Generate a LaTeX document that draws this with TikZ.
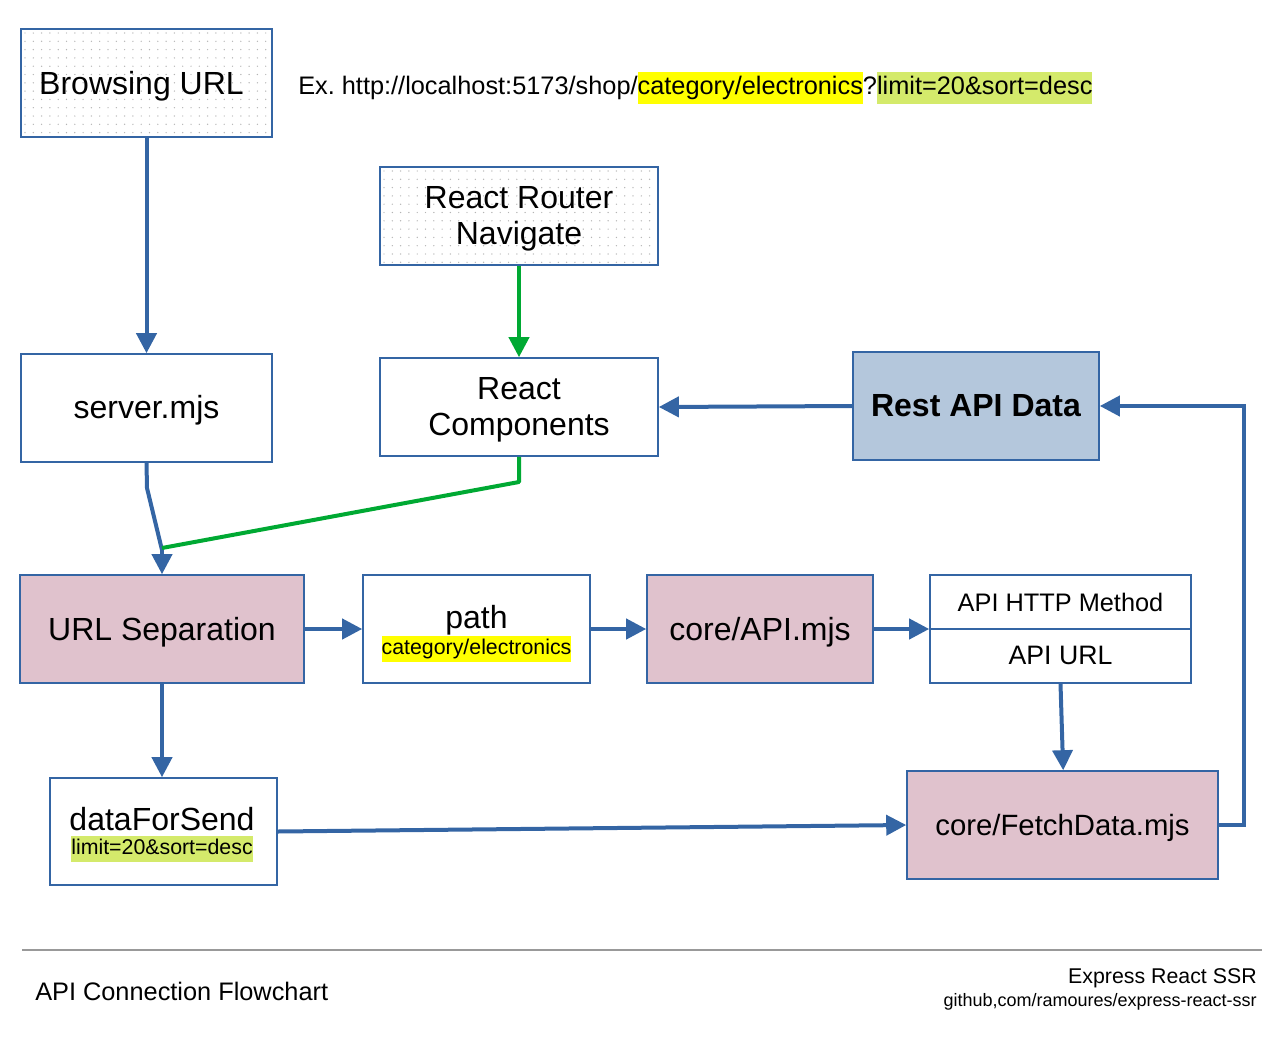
\documentclass[tikz,border=0pt]{standalone}
\usepackage{fontspec}
\setmainfont{Liberation Sans}
\usepackage{xcolor}
\usetikzlibrary{arrows.meta,calc}
\frenchspacing
\definecolor{lblue}{HTML}{3465A4}
\definecolor{lgreen}{HTML}{00A933}
\definecolor{lpink}{HTML}{E0C2CD}
\definecolor{lsteel}{HTML}{B4C7DC}
\definecolor{hlyellow}{HTML}{FFFF00}
\definecolor{hllime}{HTML}{D4EA6B}
\definecolor{dotgray}{HTML}{B4B4B4}
\definecolor{rulegray}{HTML}{999999}
\newcommand{\hlbox}[2]{{\setlength\fboxsep{0pt}\colorbox{#1}{\strut #2}}}
\begin{document}
\begin{tikzpicture}[x=0.75pt,y=-0.75pt,
  box/.style={draw=lblue,line width=1.2pt,fill=white,inner sep=0pt},
  txt/.style={inner sep=0pt,align=center,font=\fontsize{24}{27}\selectfont},
  dotfill/.style={path picture={
    \foreach \i in {0,...,34} \foreach \j in {0,...,13}
      \fill[dotgray] ([shift={(\i*8.3+4,\j*8.3+4)}]path picture bounding box.north west) circle (0.7);}},
  conn/.style={draw=lblue,line width=3pt,-{Triangle[length=15pt,width=15pt]}},
  gconn/.style={draw=lgreen,line width=3pt,-{Triangle[length=15pt,width=15pt]}},
  gline/.style={draw=lgreen,line width=3pt},
  bline/.style={draw=lblue,line width=3pt},
]
\useasboundingbox (0,0) rectangle (1281,1042);

% boxes
\node[box,dotfill,minimum width=188.25pt,minimum height=81pt] (url) at (146.5,83) {};
\node[box,minimum width=188.25pt,minimum height=81pt] (server) at (146.5,408) {};
\node[box,dotfill,minimum width=208.5pt,minimum height=73.5pt] (router) at (519,216) {};
\node[box,minimum width=208.5pt,minimum height=73.5pt] (comps) at (519,407) {};
\node[box,fill=lsteel,minimum width=184.5pt,minimum height=81pt] (rest) at (976,406) {};
\node[box,fill=lpink,minimum width=213pt,minimum height=81pt] (sep) at (162,629) {};
\node[box,minimum width=170.25pt,minimum height=81pt] (path) at (476.5,629) {};
\node[box,fill=lpink,minimum width=169.5pt,minimum height=81pt] (api) at (760,629) {};
\node[box,minimum width=195.75pt,minimum height=81pt] (http) at (1060.5,629) {};
\draw[draw=lblue,line width=1.2pt] (http.west) -- (http.east);
\node[box,minimum width=170.25pt,minimum height=80.25pt] (data) at (163.5,831.5) {};
\node[box,fill=lpink,minimum width=233.25pt,minimum height=81pt] (fetch) at (1062.5,825) {};

% texts
\node[txt] (urlt) at (141.5,86) {Browsing URL};
\node[anchor=west,font=\fontsize{19}{24}\selectfont,inner sep=0pt] (ex) at (298,88)
  {Ex. http://localhost:5173/shop/\hlbox{hlyellow}{category/electronics}?\hlbox{hllime}{limit=20\&sort=desc}};
\node[txt] (servert) at (146.5,410) {server.mjs};
\node[txt] (routert) at (519,219) {React Router\\Navigate};
\node[txt] (compst) at (519,410) {React\\Components};
\node[txt,font=\fontsize{24}{27}\selectfont\bfseries] (restt) at (976,406) {Rest API Data};
\node[txt] (sept) at (162,632) {URL Separation};
\node[txt] (pathlbl) at (476.5,620) {path};
\node[txt,font=\fontsize{16}{19}\selectfont] (pathsub) at (476.5,649) {\hlbox{hlyellow}{category/electronics}};
\node[txt] (apit) at (760,632) {core/API.mjs};
\node[txt,font=\fontsize{19}{22}\selectfont] (method) at (1060.5,602) {API HTTP Method};
\node[txt,font=\fontsize{20}{22}\selectfont] (apiurl) at (1060.5,655) {API URL};
\node[txt] (datalbl) at (162,819) {dataForSend};
\node[txt,font=\fontsize{16}{19}\selectfont] (datasub) at (162,849) {\hlbox{hllime}{limit=20\&sort=desc}};
\node[txt,font=\fontsize{22}{26}\selectfont] (fetcht) at (1062.5,828) {core/FetchData.mjs};

% helper coordinates
\coordinate (b1) at (147,488);
\coordinate (b2) at (162,550);
\coordinate (g1) at (519,482);
\coordinate (j1) at (162,548);
\coordinate (r1) at (1244,825);
\coordinate (r2) at (1244,406);

% connectors
\draw[conn] (url.south) -- (server.north);
\draw[gconn] (router.south) -- (comps.north);
\draw[bline,line join=round] (server.south) -- (b1) -- (b2);
\draw[conn] (b2) -- (sep.north);
\draw[gline,line join=round] (comps.south) -- (g1) -- (j1);
\draw[conn] (rest.west) -- (comps.east);
\draw[conn] (sep.east) -- (path.west);
\draw[conn] (path.east) -- (api.west);
\draw[conn] (api.east) -- (http.west);
\draw[conn] (sep.south) -- (data.north -| sep.south);
\draw[conn] (http.south) -- ([xshift=2]fetch.north -| http.south);
\draw[conn] (data.east) -- (fetch.west);
\draw[conn,line join=miter] (fetch.east) -- (r1) -- (r2) -- (rest.east);

% footer
\coordinate (fl) at (22,950);
\coordinate (fr) at (1262,950);
\draw[rulegray,line width=1.5pt] (fl) -- (fr);
\node[anchor=west,font=\fontsize{19}{22}\selectfont,inner sep=0pt] (title) at (35,991) {API Connection Flowchart};
\node[anchor=east,font=\fontsize{16}{19}\selectfont,inner sep=0pt] (proj) at (1257,978) {Express React SSR};
\node[anchor=east,font=\fontsize{13.5}{16}\selectfont,inner sep=0pt] (repo) at (1257,1002) {github,com/ramoures/express-react-ssr};
\end{tikzpicture}
\end{document}
